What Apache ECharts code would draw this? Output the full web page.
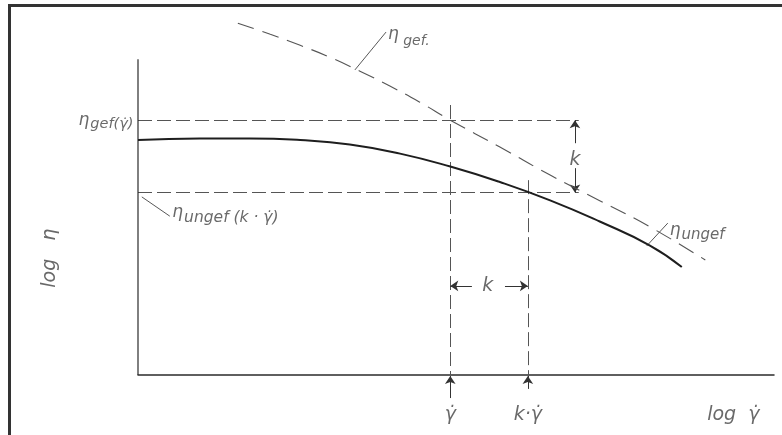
<!DOCTYPE html>
<html>
<head>
<meta charset="utf-8">
<script src="https://cdn.jsdelivr.net/npm/echarts@6/dist/echarts.min.js"></script>
<style>
  html, body { margin: 0; padding: 0; background: #fff; }
  #chart { width: 782px; height: 435px; }
</style>
</head>
<body>
<div id="chart"></div>
<script>
// Schematic: viscosity curves of unfilled and filled melt, log η over log γ̇ (arbitrary log units)
const ungefX = [0, 9.7, 17.6, 25.5, 33.3, 41.2, 49.1, 56.9, 64.8, 72.6, 80.5, 85.5];
const ungefY = [74.4, 74.9, 74.9, 74.4, 73.0, 70.1, 66.0, 61.1, 55.3, 48.6, 41.0, 34.2];
const gefX = [15.7, 20.8, 25.5, 30.2, 34.9, 39.6, 44.3, 49.1, 56.9, 64.8, 72.6, 80.5, 89.2];
const gefY = [111.4, 107.9, 104.4, 100.6, 96.2, 91.5, 86.4, 80.7, 72.2, 63.3, 55.2, 46.9, 36.4];

const rateRef = 49.1;          // log γ̇
const rateShifted = 61.3;      // log k·γ̇
const etaGefAtRate = 80.7;     // log η_gef(γ̇)
const etaUngefAtShift = 57.8;  // log η_ungef(k·γ̇)
const guideEnd = 69.3;
const kBarX = 68.7;
const kDimY = 28.2;
const yAxisTop = 100;

const INK = '#2b2b2b';
const GUIDE = '#555';
const FONT = 'DejaVu Sans';

const zip = (xs, ys) => xs.map((x, i) => [x, ys[i]]);

const txt = (size) => ({ fontFamily: FONT, fontStyle: 'italic', fontSize: size, color: '#444' });

const chart = echarts.init(document.getElementById('chart'), null, { renderer: 'canvas' });

const guideDash = [14, 5];

const option = {
  animation: false,
  backgroundColor: '#fff',
  grid: { left: 138, right: 8, top: 15, bottom: 60 },
  xAxis: {
    type: 'value', min: 0, max: 100,
    axisLine: { show: true, lineStyle: { color: INK, width: 1.5 } },
    axisTick: { show: false }, axisLabel: { show: false }, splitLine: { show: false }
  },
  yAxis: {
    type: 'value', min: 0, max: 114,
    axisLine: { show: false }, axisTick: { show: false },
    axisLabel: { show: false }, splitLine: { show: false }
  },
  graphic: [
    { type: 'rect', shape: { x: 8, y: 4, width: 782, height: 3 }, style: { fill: '#333' }, silent: true },
    { type: 'rect', shape: { x: 8, y: 4, width: 3, height: 440 }, style: { fill: '#333' }, silent: true }
  ],
  series: [
    // vertical axis
    {
      type: 'line', data: [[0, 0], [0, yAxisTop]], showSymbol: false, clip: false,
      lineStyle: { color: INK, width: 1.2 }, silent: true
    },
    // η_ungef
    {
      type: 'line', data: zip(ungefX, ungefY), smooth: 0.5,
      showSymbol: false, clip: false,
      lineStyle: { color: '#1e1e1e', width: 2 }, silent: true
    },
    // η_gef
    {
      type: 'line', data: zip(gefX, gefY), smooth: 0.5,
      showSymbol: false, clip: false,
      lineStyle: { color: GUIDE, width: 1.1, type: [17, 9] }, silent: true
    },
    // dashed guide lines
    {
      type: 'lines', coordinateSystem: 'cartesian2d', clip: false, silent: true,
      lineStyle: { color: GUIDE, width: 1, type: guideDash, opacity: 1 },
      symbol: 'none',
      data: [
        { coords: [[0, etaGefAtRate], [guideEnd, etaGefAtRate]] },
        { coords: [[0, etaUngefAtShift], [guideEnd, etaUngefAtShift]] },
        { coords: [[rateRef, 85.5], [rateRef, 0]] },
        { coords: [[rateShifted, 61.7], [rateShifted, 0]] }
      ]
    },
    // dimension arrows
    {
      type: 'lines', coordinateSystem: 'cartesian2d', clip: false, silent: true,
      lineStyle: { color: '#333', width: 1, opacity: 1 },
      symbol: ['none', 'arrow'], symbolSize: [5, 8],
      data: [
        { coords: [[kBarX, 73.4], [kBarX, etaGefAtRate]] },
        { coords: [[kBarX, 65.5], [kBarX, etaUngefAtShift]] },
        { coords: [[52.5, kDimY], [rateRef, kDimY]] },
        { coords: [[57.7, kDimY], [rateShifted, kDimY]] },
        { coords: [[rateRef, -7.3], [rateRef, -0.3]] },
        { coords: [[rateShifted, -4.4], [rateShifted, -0.3]] }
      ]
    },
    // leader lines
    {
      type: 'lines', coordinateSystem: 'cartesian2d', clip: false, silent: true,
      lineStyle: { color: '#444', width: 0.9, opacity: 1 },
      symbol: 'none',
      data: [
        { coords: [[34.1, 96.6], [39.0, 108.6]] },
        { coords: [[0.6, 56.4], [5.0, 50.3]] },
        { coords: [[80.0, 40.9], [83.3, 48.1]] }
      ]
    },
    // annotations
    {
      type: 'scatter', symbolSize: 0, clip: false, silent: true,
      data: [
        {
          value: [-0.4, etaGefAtRate],
          label: {
            show: true, position: 'left', distance: 2,
            formatter: '{e|η}{s|gef(γ̇)}',
            rich: { e: txt(17), s: Object.assign(txt(14.5), { padding: [9, 0, 0, 1] }) }
          }
        },
        {
          value: [5.4, 51.3],
          label: {
            show: true, position: 'right', distance: 0,
            formatter: '{e|η}{s|ungef (k · γ̇)}',
            rich: { e: txt(17), s: Object.assign(txt(15.5), { padding: [9, 0, 0, 1] }) }
          }
        },
        {
          value: [39.3, 106.7],
          label: {
            show: true, position: 'right', distance: 0,
            formatter: '{e|η}{s| gef.}',
            rich: { e: Object.assign(txt(17), { padding: [0, 0, 6, 0] }), s: Object.assign(txt(14), { padding: [6, 0, 0, 0] }) }
          }
        },
        {
          value: [83.6, 45.6],
          label: {
            show: true, position: 'right', distance: 0,
            formatter: '{e|η}{s|ungef}',
            rich: { e: txt(17), s: Object.assign(txt(15), { padding: [8, 0, 0, 1] }) }
          }
        },
        { value: [kBarX, 68.1], label: { show: true, position: 'inside', formatter: 'k', ...txt(19) } },
        { value: [55.0, kDimY], label: { show: true, position: 'inside', formatter: 'k', ...txt(19) } },
        { value: [rateRef, -12.7], label: { show: true, position: 'inside', formatter: 'γ̇', ...txt(19) } },
        { value: [rateShifted, -12.7], label: { show: true, position: 'inside', formatter: 'k·γ̇', ...txt(19) } },
        { value: [93.6, -12.7], label: { show: true, position: 'inside', formatter: 'log  γ̇', ...txt(19) } },
        { value: [-13.8, 37.0], label: { show: true, position: 'inside', rotate: 90, formatter: 'log   η', ...txt(19) } }
      ]
    }
  ]
};

chart.setOption(option);
</script>
</body>
</html>
